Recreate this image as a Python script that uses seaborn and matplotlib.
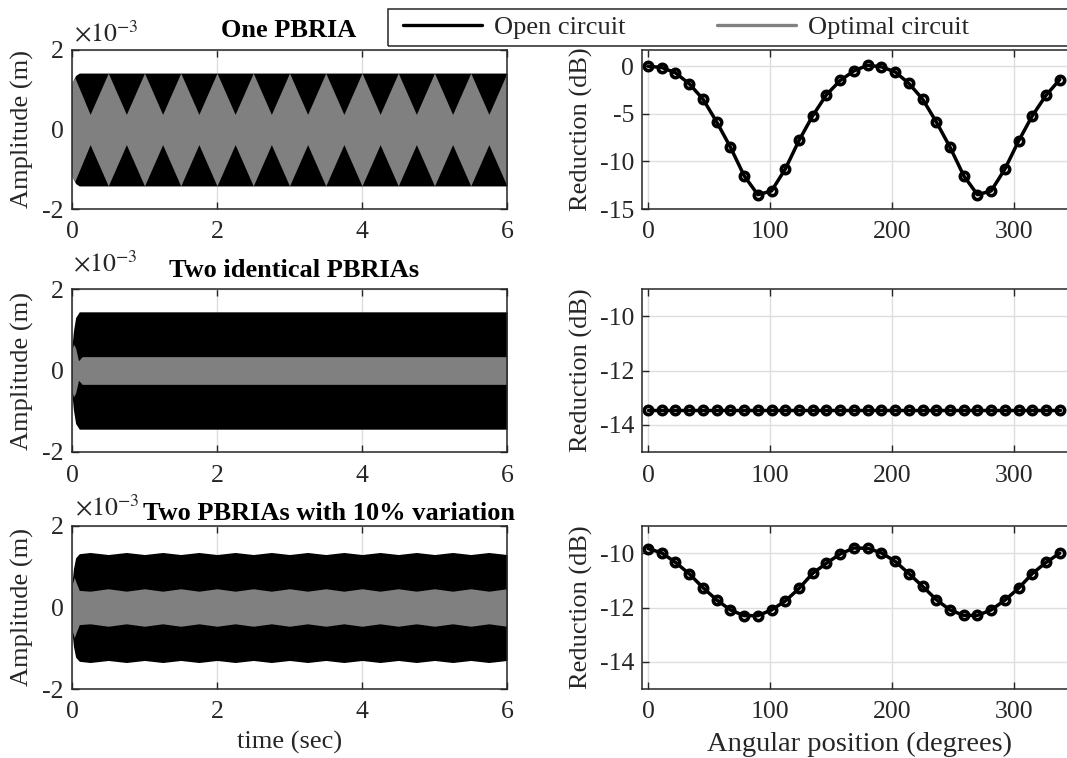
import matplotlib
matplotlib.use("Agg")
import matplotlib.pyplot as plt
from matplotlib.lines import Line2D
from matplotlib.patches import Rectangle
import pandas as pd
import seaborn as sns

sns.set_theme(style="ticks")
plt.rcParams["font.family"] = ["Liberation Serif", "DejaVu Serif"]
plt.rcParams["mathtext.fontset"] = "stix"
plt.rcParams["axes.unicode_minus"] = False

OPEN = "#000000"
OPTIMAL = "#808080"
INK = "#262626"

# ---- angular sweep (degrees) and reduction curves (dB) ----
angles = [0, 11.25, 22.5, 33.75, 45, 56.25, 67.5, 78.75, 90, 101.25, 112.5,
          123.75, 135, 146.25, 157.5, 168.75, 180, 191.25, 202.5, 213.75,
          225, 236.25, 247.5, 258.75, 270, 281.25, 292.5, 303.75, 315,
          326.25, 337.5]
reduction_one = [0.0, -0.14, -0.7, -1.85, -3.45, -5.85, -8.5, -11.5, -13.5,
                 -13.1, -10.8, -7.8, -5.2, -3.0, -1.5, -0.5, 0.1, -0.07, -0.6,
                 -1.8, -3.45, -5.85, -8.5, -11.5, -13.5, -13.1, -10.8, -7.85,
                 -5.2, -3.05, -1.4]
reduction_identical = [-13.45, -13.45, -13.45, -13.45, -13.45, -13.45, -13.45,
                       -13.45, -13.45, -13.45, -13.45, -13.45, -13.45, -13.45,
                       -13.45, -13.45, -13.45, -13.45, -13.45, -13.45, -13.45,
                       -13.45, -13.45, -13.45, -13.45, -13.45, -13.45, -13.45,
                       -13.45, -13.45, -13.45]
reduction_varied = [-9.83, -9.99, -10.34, -10.76, -11.27, -11.72, -12.09,
                    -12.3, -12.3, -12.09, -11.76, -11.3, -10.74, -10.37,
                    -10.03, -9.81, -9.82, -9.99, -10.3, -10.75, -11.22,
                    -11.71, -12.09, -12.29, -12.29, -12.09, -11.73, -11.29,
                    -10.75, -10.34, -10.0]

# ---- displacement envelopes, amplitude in units of 1e-3 m ----
one_open_t = [0.0, 0.02, 0.05, 0.1, 6.0]
one_open_amp = [1.15, 1.25, 1.36, 1.42, 1.42]
one_opt_t = [0.0, 0.04, 0.25, 0.5, 0.75, 1.0, 1.25, 1.5, 1.75, 2.0, 2.25, 2.5,
             2.75, 3.0, 3.25, 3.5, 3.75, 4.0, 4.25, 4.5, 4.75, 5.0, 5.25, 5.5,
             5.75, 6.0]
one_opt_amp = [1.2, 1.3, 0.38, 1.42, 0.38, 1.42, 0.38, 1.42, 0.38, 1.42, 0.38,
               1.42, 0.38, 1.42, 0.38, 1.42, 0.38, 1.42, 0.38, 1.42, 0.38,
               1.42, 0.38, 1.42, 0.38, 1.42]

two_open_t = [0.0, 0.02, 0.05, 0.1, 6.0]
two_open_amp = [0.6, 0.97, 1.3, 1.44, 1.44]
two_opt_t = [0.0, 0.02, 0.05, 0.09, 0.14, 6.0]
two_opt_amp = [0.5, 0.65, 0.55, 0.24, 0.34, 0.34]

var_open_t = [0.0, 0.02, 0.05, 0.1, 0.25, 0.5, 0.75, 1.0, 1.25, 1.5, 1.75,
              2.0, 2.25, 2.5, 2.75, 3.0, 3.25, 3.5, 3.75, 4.0, 4.25, 4.5,
              4.75, 5.0, 5.25, 5.5, 5.75, 6.0]
var_open_amp = [0.6, 0.95, 1.22, 1.32, 1.35, 1.30, 1.35, 1.30, 1.35, 1.30,
                1.35, 1.30, 1.35, 1.30, 1.35, 1.30, 1.35, 1.30, 1.35, 1.30,
                1.35, 1.30, 1.35, 1.30, 1.35, 1.30, 1.35, 1.30]
var_opt_t = [0.0, 0.03, 0.06, 0.1, 0.25, 0.5, 0.75, 1.0, 1.25, 1.5, 1.75, 2.0,
             2.25, 2.5, 2.75, 3.0, 3.25, 3.5, 3.75, 4.0, 4.25, 4.5, 4.75, 5.0,
             5.25, 5.5, 5.75, 6.0]
var_opt_amp = [0.55, 0.74, 0.6, 0.42, 0.40, 0.46, 0.40, 0.46, 0.40, 0.46, 0.40,
               0.46, 0.40, 0.46, 0.40, 0.46, 0.40, 0.46, 0.40, 0.46, 0.40,
               0.46, 0.40, 0.46, 0.40, 0.46, 0.40, 0.46]

titles = ["One PBRIA", "Two identical PBRIAs", "Two PBRIAs with 10% variation"]

W, H = 1067, 758
fig = plt.figure(figsize=(W / 100, H / 100), dpi=100)


def frac_rect(x0, y_top, x1, y_bot):
    return [x0 / W, 1 - y_bot / H, (x1 - x0) / W, (y_bot - y_top) / H]


rows = [(50, 209), (289, 452), (526, 689)]
FS = 18.5


def style(ax, right=True):
    for side, sp in ax.spines.items():
        sp.set_color(INK)
        sp.set_linewidth(1.1)
    if not right:
        ax.spines["right"].set_visible(False)
    ax.tick_params(direction="in", length=5, width=1, colors=INK,
                   labelsize=FS, top=True, right=right, labelcolor=INK)
    ax.tick_params(axis="x", pad=9)
    ax.tick_params(axis="y", pad=6)
    ax.grid(True, color="#dedede", lw=1)
    ax.set_axisbelow(True)


left_data = [
    (one_open_t, one_open_amp, one_opt_t, one_opt_amp),
    (two_open_t, two_open_amp, two_opt_t, two_opt_amp),
    (var_open_t, var_open_amp, var_opt_t, var_opt_amp),
]
right_data = [reduction_one, reduction_identical, reduction_varied]
right_ylim = [(-15, 1.7), (-15, -9), (-15, -9)]
right_yticks = [[-15, -10, -5, 0], [-14, -12, -10], [-14, -12, -10]]
title_pos = [(289, 37), (294, 277), (329, 520)]
expo_pos = [(74, 42), (73, 272), (75, 516)]

for i, (top, bot) in enumerate(rows):
    # time history panel
    axl = fig.add_axes(frac_rect(72, top, 507, bot))
    ot, oa, gt, ga = left_data[i]
    axl.fill_between(ot, [-a for a in oa], oa, color=OPEN, lw=0)
    axl.fill_between(gt, [-a for a in ga], ga, color=OPTIMAL, lw=0)
    axl.set_xlim(0, 6)
    axl.set_ylim(-2, 2)
    axl.set_xticks([0, 2, 4, 6])
    axl.set_yticks([-2, 0, 2])
    style(axl)
    axl.set_ylabel("Amplitude (m)", fontsize=19, color=INK)
    axl.yaxis.set_label_coords(-0.088, 0.5)
    fig.text(expo_pos[i][0] / W, 1 - expo_pos[i][1] / H, r"$\times10^{-3}$",
             fontsize=FS, color=INK, ha="left", va="baseline")
    fig.text(title_pos[i][0] / W, 1 - title_pos[i][1] / H, titles[i],
             fontsize=19, fontweight="bold", color="black",
             ha="center", va="baseline")

    # reduction vs angle panel
    axr = fig.add_axes(frac_rect(642.3, top, W, bot))
    df = pd.DataFrame({"angle": angles, "reduction": right_data[i]})
    sns.lineplot(data=df, x="angle", y="reduction", ax=axr, color=OPEN,
                 lw=2.5, marker="o", markersize=6.0, markeredgewidth=2.6,
                 markerfacecolor="none", markeredgecolor=OPEN)
    axr.set_xlim(-4.7, 343.4)
    axr.set_ylim(*right_ylim[i])
    axr.set_xticks([0, 100, 200, 300])
    axr.set_yticks(right_yticks[i])
    style(axr, right=False)
    axr.set_xlabel("")
    axr.set_ylabel("Reduction (dB)", fontsize=19, color=INK)
    axr.yaxis.set_label_coords(-0.115, 0.5)
    if i == 2:
        axl.set_xlabel("time (sec)", fontsize=19, color=INK)
        axl.xaxis.set_label_coords(0.5, -0.255)
        axr.set_xlabel("Angular position (degrees)", fontsize=20.5, color=INK)
        axr.xaxis.set_label_coords(0.512, -0.265)

# shared legend across the top
handles = [Line2D([], [], color=OPEN, lw=2.4),
           Line2D([], [], color=OPTIMAL, lw=2.4)]
fig.legend(handles, ["Open circuit", "Optimal circuit"], ncol=2,
           loc="center left", bbox_to_anchor=(403 / W, 1 - 27.5 / H),
           frameon=False, fontsize=19, handlelength=3.0, handletextpad=0.45,
           columnspacing=3.45, borderaxespad=0, borderpad=0)
fig.add_artist(Rectangle((388 / W, 1 - 46 / H), (W + 10 - 388) / W, 37 / H,
                         transform=fig.transFigure, fill=False,
                         edgecolor=INK, lw=1.1))

fig.savefig("out.png", dpi=100)
